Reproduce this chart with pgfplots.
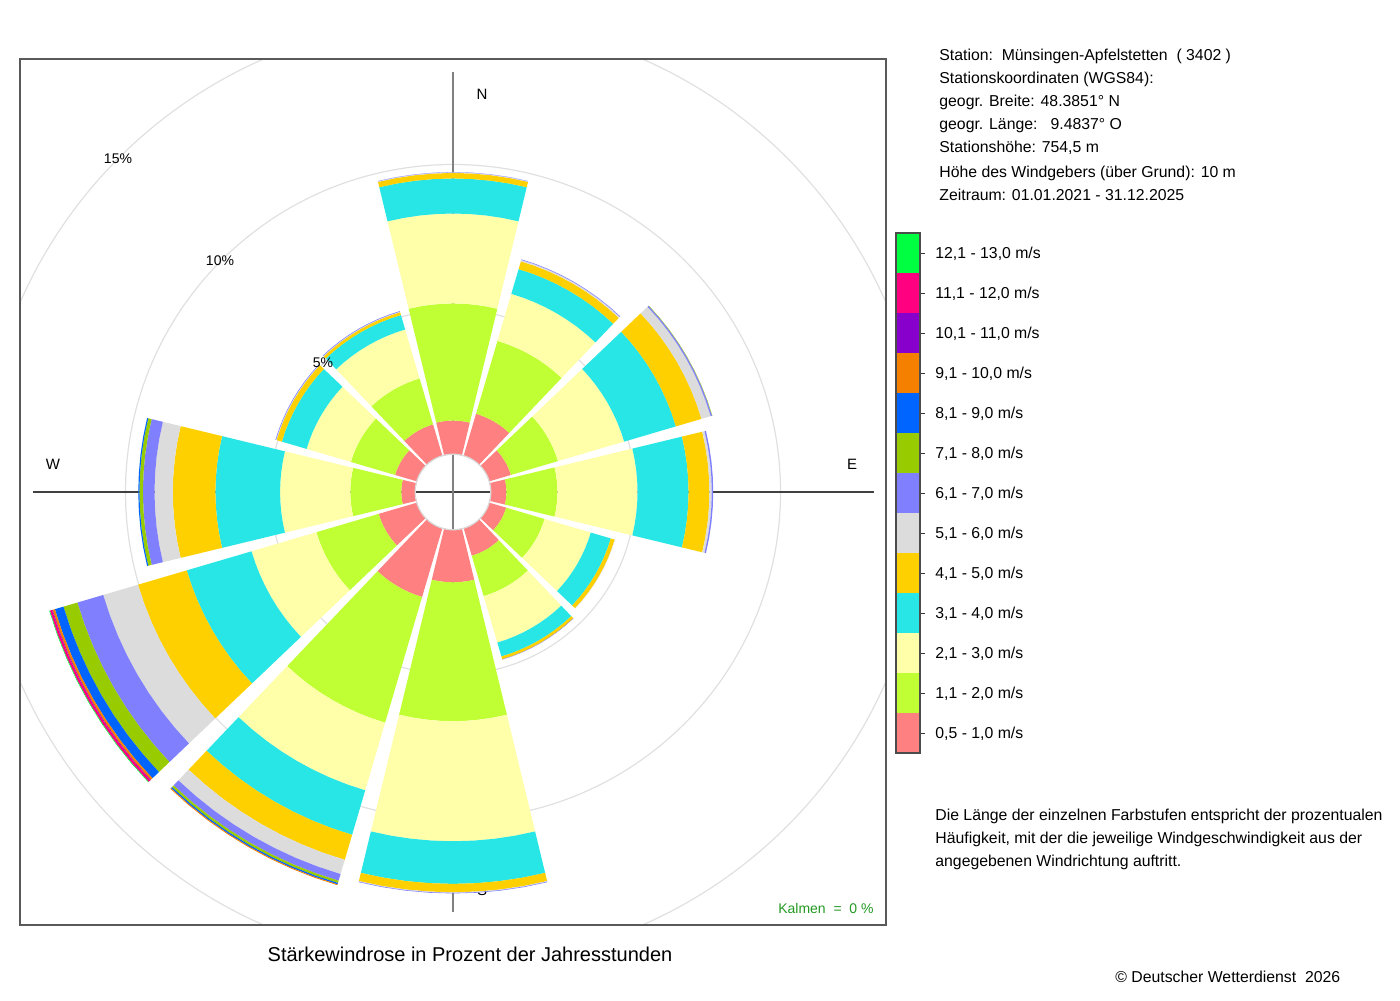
\documentclass[border=0pt]{standalone}
\usepackage{pgfplots}
\pgfplotsset{compat=1.18}
\usepackage{pgfplotstable}
\usepackage{fontspec}
\setmainfont{Liberation Sans}
\definecolor{ws1}{HTML}{FF8080}
\definecolor{ws2}{HTML}{BFFF33}
\definecolor{ws3}{HTML}{FFFFAA}
\definecolor{ws4}{HTML}{28E6E6}
\definecolor{ws5}{HTML}{FFD000}
\definecolor{ws6}{HTML}{DCDCDC}
\definecolor{ws7}{HTML}{8080FF}
\definecolor{ws8}{HTML}{99CC00}
\definecolor{ws9}{HTML}{0064FF}
\definecolor{ws10}{HTML}{F58000}
\definecolor{ws11}{HTML}{8800CC}
\definecolor{ws12}{HTML}{FF0080}
\definecolor{ws13}{HTML}{00FF40}
\definecolor{kalm}{HTML}{229922}
% percent of hours per direction (compass degrees) and speed class
\pgfplotstableread{
dir c1   c2   c3   c4   c5   c6   c7   c8   c9   c10  c11  c12  c13
0   1.17 4.04 3.10 1.21 0.19 0.02 0.01 0    0    0    0    0    0
30  1.52 2.62 1.69 0.89 0.28 0.05 0.02 0    0    0    0    0    0
60  0.79 1.69 2.38 1.86 0.92 0.33 0.05 0.01 0    0    0    0    0
90  0.55 1.76 2.76 1.76 0.72 0.08 0.05 0    0    0    0    0    0
120 0.62 1.38 1.66 0.72 0.14 0.01 0    0    0    0    0    0    0
150 1.00 1.45 1.67 0.50 0.10 0    0.01 0    0    0    0    0    0
180 1.82 4.79 4.14 1.47 0.29 0.02 0.02 0    0    0    0    0    0
210 2.48 4.52 2.43 1.60 0.90 0.51 0.24 0.08 0.05 0.03 0    0    0
240 1.38 2.24 2.33 2.33 1.75 1.25 0.93 0.50 0.31 0.08 0.02 0.08 0.02
270 0.49 1.76 2.42 2.23 1.47 0.63 0.40 0.12 0.04 0    0    0    0
300 0.79 1.59 1.59 0.89 0.19 0.02 0.02 0    0    0    0    0    0
330 1.14 1.65 1.76 0.52 0.10 0.02 0.02 0    0    0    0    0    0
}\windtable
\begin{document}
\begin{tikzpicture}
\path[use as bounding box] (0,0) rectangle (700pt,-500pt);
% grid circles, clipped to the frame, under the rose
\begin{scope}[x=0.5pt,y=-0.5pt]
\clip (20,59) rectangle (886,925);
\draw[black!12, line width=0.6pt] (453,492) circle[radius=91.25pt];
\draw[black!12, line width=0.6pt] (453,492) circle[radius=163.75pt];
\draw[black!12, line width=0.6pt] (453,492) circle[radius=236.25pt];
\draw[black!12, line width=0.6pt] (453,492) circle[radius=308.75pt];
\end{scope}
\begin{axis}[at={(10pt,-462.5pt)}, anchor=south west,
  width=433pt, height=433pt, scale only axis,
  xmin=-433, xmax=433, ymin=-433, ymax=433,
  xtick=\empty, ytick=\empty,
  axis line style={black!65, line width=0.6pt}]
\draw[black!75, line width=0.7pt] (axis cs:-420,0) -- (axis cs:421,0);
\draw[black!50, line width=0.8pt] (axis cs:0,420) -- (axis cs:0,-420);
\node[font=\fontsize{7.5}{9}\selectfont] at (axis cs:29,398) {N};
\node[font=\fontsize{7.5}{9}\selectfont] at (axis cs:399,28) {E};
\node[font=\fontsize{7.5}{9}\selectfont] at (axis cs:-400,28) {W};
\node[font=\fontsize{7.5}{9}\selectfont] at (axis cs:29,-398) {S};
% sectors
\pgfplotsforeachungrouped \i in {0,...,11}{%
  \pgfplotstablegetelem{\i}{dir}\of\windtable
  \pgfmathsetmacro\thetaC{90-\pgfplotsretval}%
  \gdef\cum{0}%
  \pgfplotsforeachungrouped \j in {1,...,13}{%
    \pgfplotstablegetelem{\i}{c\j}\of\windtable
    \let\val\pgfplotsretval
    \pgfmathsetmacro\rA{37.5+29*\cum}%
    \pgfmathsetmacro\cumnew{\cum+\val}%
    \global\let\cum\cumnew
    \pgfmathsetmacro\rB{37.5+29*\cum}%
    \ifdim\val pt>0pt
      \gdef\coords{}%
      \pgfplotsforeachungrouped \k in {0,...,8}{%
        \pgfmathsetmacro\ang{\thetaC-13.6+3.4*\k}%
        \pgfmathsetmacro\ppx{\rA*cos(\ang)}%
        \pgfmathsetmacro\ppy{\rA*sin(\ang)}%
        \xdef\coords{\coords (\ppx,\ppy)}%
      }%
      \pgfplotsforeachungrouped \k in {0,...,8}{%
        \pgfmathsetmacro\ang{\thetaC+13.6-3.4*\k}%
        \pgfmathsetmacro\ppx{\rB*cos(\ang)}%
        \pgfmathsetmacro\ppy{\rB*sin(\ang)}%
        \xdef\coords{\coords (\ppx,\ppy)}%
      }%
      \edef\temp{\noexpand\addplot[draw=none,fill=ws\j,forget plot] coordinates {\coords};}%
      \temp
    \fi
  }%
}
\draw[black!15, line width=0.6pt] (axis cs:0,0) circle[radius=18.9pt];
\node[font=\fontsize{7}{8}\selectfont] at (axis cs:-130,129) {5\%};
\node[font=\fontsize{7}{8}\selectfont] at (axis cs:-233,231) {10\%};
\node[font=\fontsize{7}{8}\selectfont] at (axis cs:-335,333) {15\%};
\node[font=\fontsize{7}{8}\selectfont, text=kalm, anchor=base east, inner sep=0pt] at (axis cs:421,-421) {Kalmen\ \ =\ \ 0 \%};
\end{axis}
\begin{scope}[x=0.5pt,y=-0.5pt]
\tikzset{tx/.style={anchor=base west, inner sep=0pt, font=\fontsize{7.9}{9.5}\selectfont}}
\node[tx] at (939,61) {Station:\ \ Münsingen-Apfelstetten\ \ ( 3402 )};
\node[tx] at (939,84) {Stationskoordinaten (WGS84):};
\node[tx] at (939,107) {geogr. Breite: 48.3851° N};
\node[tx] at (939,130) {geogr. Länge:\ \ \ 9.4837° O};
\node[tx] at (939,153) {Stationshöhe: 754,5 m};
\node[tx] at (939,177) {Höhe des Windgebers (über Grund): 10 m};
\node[tx] at (939,200) {Zeitraum: 01.01.2021 - 31.12.2025};
\foreach \c/\lab [count=\n from 0] in {ws13/{12,1 - 13,0 m/s}, ws12/{11,1 - 12,0 m/s}, ws11/{10,1 - 11,0 m/s}, ws10/{9,1 - 10,0 m/s}, ws9/{8,1 - 9,0 m/s}, ws8/{7,1 - 8,0 m/s}, ws7/{6,1 - 7,0 m/s}, ws6/{5,1 - 6,0 m/s}, ws5/{4,1 - 5,0 m/s}, ws4/{3,1 - 4,0 m/s}, ws3/{2,1 - 3,0 m/s}, ws2/{1,1 - 2,0 m/s}, ws1/{0,5 - 1,0 m/s}}{
  \fill[\c] (896,233+40*\n) rectangle (920,273+40*\n);
  \draw[black!80, line width=0.5pt] (920,253+40*\n) -- (925,253+40*\n);
  \node[tx] at (935,258.6+40*\n) {\lab};
}
\draw[black!70, line width=0.6pt] (896,233) rectangle (920,753);
\node[tx] at (935,820) {Die Länge der einzelnen Farbstufen entspricht der prozentualen};
\node[tx] at (935,843) {Häufigkeit, mit der die jeweilige Windgeschwindigkeit aus der};
\node[tx] at (935,866) {angegebenen Windrichtung auftritt.};
\node[anchor=base, inner sep=0pt, font=\fontsize{10}{12}\selectfont] at (470,961) {Stärkewindrose in Prozent der Jahresstunden};
\node[tx] at (1115,982) {© Deutscher Wetterdienst\ \ 2026};
\end{scope}
\end{tikzpicture}
\end{document}
